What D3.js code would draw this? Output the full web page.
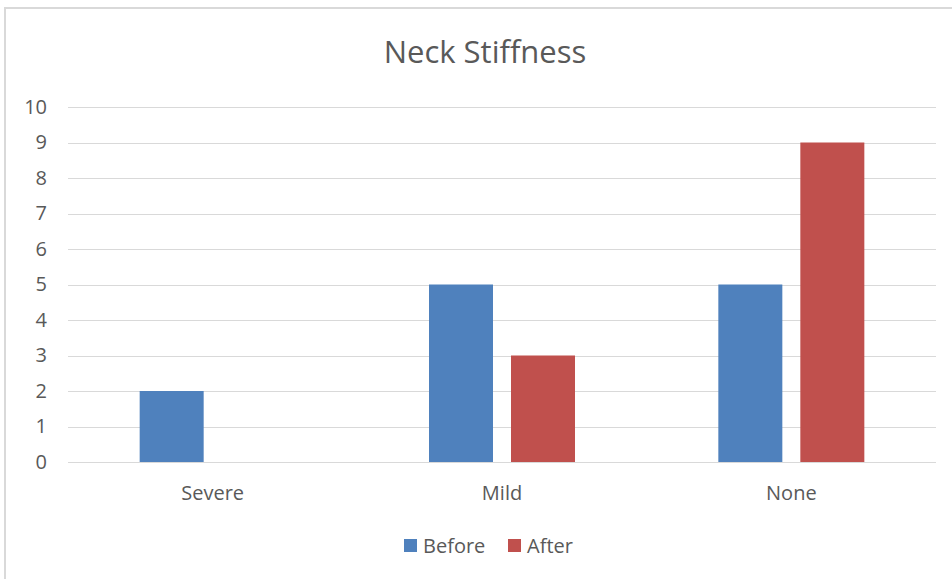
<!DOCTYPE html>
<html>
<head>
<meta charset="utf-8">
<script src="https://cdn.jsdelivr.net/npm/d3@7"></script>
<style>
  html, body { margin: 0; padding: 0; background: #fff; }
  svg { display: block; }
  text { font-family: "Open Sans", "Noto Sans", sans-serif; fill: #595959; }
</style>
</head>
<body>
<svg id="chart" width="952" height="579"></svg>
<script>
const categories = ["Severe", "Mild", "None"];
const seriesNames = ["Before", "After"];
const beforeValues = [2, 5, 5];
const afterValues = [0, 3, 9];
const yTicks = [0, 1, 2, 3, 4, 5, 6, 7, 8, 9, 10];
const colors = ["#4F81BD", "#C0504D"];

const svg = d3.select("#chart");
const W = 952, H = 579;

// chart frame
svg.append("rect")
  .attr("x", 5).attr("y", 8)
  .attr("width", W + 10).attr("height", H + 10)
  .attr("fill", "#fff")
  .attr("stroke", "#d9d9d9").attr("stroke-width", 2);

const plot = { left: 68, right: 936, top: 107, bottom: 462 };

const x = d3.scaleBand().domain(categories).range([plot.left, plot.right]);
const y = d3.scaleLinear().domain([0, 10]).range([plot.bottom, plot.top]);

// gridlines
svg.append("g").selectAll("line")
  .data(yTicks)
  .join("line")
  .attr("x1", plot.left).attr("x2", plot.right)
  .attr("y1", d => Math.round(y(d)) + 0.5).attr("y2", d => Math.round(y(d)) + 0.5)
  .attr("stroke", "#d9d9d9").attr("stroke-width", 1);

// y axis labels
const yAxis = d3.axisLeft(y).tickValues(yTicks).tickSize(0).tickPadding(0);
const yg = svg.append("g").attr("transform", `translate(${plot.left - 21},0)`).call(yAxis);
yg.select(".domain").remove();
yg.selectAll("text")
  .style("font-family", '"Open Sans", "Noto Sans", sans-serif')
  .style("font-size", "20px").attr("fill", "#595959");

// x axis labels
const xAxis = d3.axisBottom(x).tickSize(0).tickPadding(0);
const xg = svg.append("g").attr("transform", `translate(0,${plot.bottom + 24})`).call(xAxis);
xg.select(".domain").remove();
xg.selectAll("text")
  .style("font-family", '"Open Sans", "Noto Sans", sans-serif')
  .style("font-size", "20px").attr("fill", "#595959");

// bars
const barW = 64, gap = 18;
const series = [beforeValues, afterValues];
series.forEach((vals, si) => {
  svg.append("g").selectAll("rect")
    .data(categories.map((c, i) => ({ c, v: vals[i] })))
    .join("rect")
    .attr("x", d => {
      const cx = x(d.c) + x.bandwidth() / 2;
      return si === 0 ? cx - gap / 2 - barW : cx + gap / 2;
    })
    .attr("y", d => y(d.v))
    .attr("width", barW)
    .attr("height", d => y(0) - y(d.v))
    .attr("fill", colors[si]);
});

// title
svg.append("text")
  .attr("x", 485).attr("y", 63)
  .attr("text-anchor", "middle")
  .style("font-size", "31px")
  .text("Neck Stiffness");

// legend
const legend = svg.append("g");
const legendItems = [
  { name: seriesNames[0], x: 404 },
  { name: seriesNames[1], x: 508 }
];
legendItems.forEach((it, i) => {
  legend.append("rect")
    .attr("x", it.x).attr("y", 539)
    .attr("width", 13).attr("height", 13)
    .attr("fill", colors[i]);
  legend.append("text")
    .attr("x", it.x + 19).attr("y", 553)
    .style("font-size", "20px")
    .text(it.name);
});
</script>
</body>
</html>
